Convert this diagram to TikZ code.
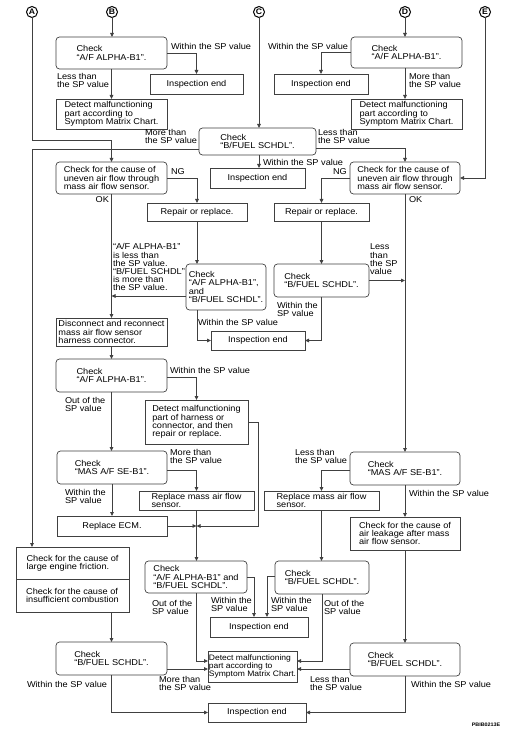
\documentclass[tikz,border=0pt]{standalone}
\usepackage{fontspec}
\setmainfont{Liberation Sans}[FakeStretch=1.08]
\usetikzlibrary{arrows.meta}
\definecolor{ln}{gray}{0.25}
\newcommand{\txtf}{\fontsize{8.5}{8.2}\selectfont}
\begin{document}
\begin{tikzpicture}[x=1pt,y=-1pt,
  every node/.style={inner sep=0pt,outer sep=0pt,font=\txtf},
  box/.style={draw=ln,line width=0.7pt,rectangle,align=left},
  rbox/.style={box,rounded corners=3.5pt},
  lab/.style={align=left},
  arr/.style={draw=ln,line width=0.8pt,-{Triangle[length=4pt,width=3.6pt]}},
  cn/.style={draw=ln,line width=0.8pt},
  circ/.style={circle,draw=black,line width=1pt,minimum size=11pt,font=\fontsize{8}{8}\selectfont\bfseries}]
\useasboundingbox (0,0) rectangle (507,735);
\fill[white] (0,0) rectangle (507,735);
% circles
\node[circ] (A) at (32,12) {A};
\node[circ] (B) at (112,12) {B};
\node[circ] (C) at (259,12) {C};
\node[circ] (D) at (405,12) {D};
\node[circ] (E) at (485,12) {E};
% boxes
\node[rbox,minimum width=111pt,minimum height=32pt] (b1) at (111.5,53) {Check\\“A/F ALPHA-B1”.};
\node[box,minimum width=93pt,minimum height=20pt] (ie1) at (196.5,84) {Inspection end};
\node[box,minimum width=111pt,minimum height=30pt] (det1) at (111.5,114) {Detect malfunctioning\\part according to\\Symptom Matrix Chart.};
\node[rbox,minimum width=111pt,minimum height=31pt] (d1) at (406.5,52.5) {Check\\“A/F ALPHA-B1”.};
\node[box,minimum width=94pt,minimum height=20pt] (ie2) at (321,84) {Inspection end};
\node[box,minimum width=111pt,minimum height=30pt] (det2) at (406.5,114) {Detect malfunctioning\\part according to\\Symptom Matrix Chart.};
\node[rbox,minimum width=117pt,minimum height=27pt] (c1) at (257.5,141.5) {Check\\“B/FUEL SCHDL”.};
\node[box,minimum width=95pt,minimum height=20pt] (ie3) at (257.5,178) {Inspection end};
\node[rbox,minimum width=111pt,minimum height=32pt] (uf1) at (111.5,178) {Check for the cause of\\uneven air flow through\\mass air flow sensor.};
\node[rbox,minimum width=110pt,minimum height=32pt] (uf2) at (405,178) {Check for the cause of\\uneven air flow through\\mass air flow sensor.};
\node[box,minimum width=100pt,minimum height=18pt] (rep1) at (197,212) {Repair or replace.};
\node[box,minimum width=95pt,minimum height=18pt] (rep2) at (321.5,212) {Repair or replace.};
\node[rbox,minimum width=80pt,minimum height=46pt] (chk2) at (226,287) {Check\\“A/F ALPHA-B1”,\\and\\“B/FUEL SCHDL”.};
\node[rbox,minimum width=95pt,minimum height=33pt] (bf1) at (321.5,280.5) {Check\\“B/FUEL SCHDL”.};
\node[box,minimum width=94pt,minimum height=19pt] (ie4) at (258,340.5) {Inspection end};
\node[box,minimum width=111pt,minimum height=28pt] (dis) at (111.5,332) {Disconnect and reconnect\\mass air flow sensor\\harness connector.};
\node[rbox,minimum width=111pt,minimum height=33pt] (af3) at (111.5,375.5) {Check\\“A/F ALPHA-B1”.};
\node[box,minimum width=103pt,minimum height=44pt] (harn) at (196.5,422) {Detect malfunctioning\\part of harness or\\connector, and then\\repair or replace.};
\node[rbox,minimum width=110pt,minimum height=33pt] (mas1) at (112,467.5) {Check\\“MAS A/F SE-B1”.};
\node[box,minimum width=115pt,minimum height=19pt] (rmaf1) at (196.5,500.5) {Replace mass air flow\\sensor.};
\node[box,minimum width=110pt,minimum height=20pt] (ecm) at (112,526) {Replace ECM.};
\node[rbox,minimum width=110pt,minimum height=33pt] (mas2) at (405,468.5) {Check\\“MAS A/F SE-B1”.};
\node[box,minimum width=115pt,minimum height=19pt] (rmaf2) at (321.5,500.5) {Replace mass air flow\\sensor.};
\node[box,minimum width=110pt,minimum height=33pt] (leak) at (405,533.5) {Check for the cause of\\air leakage after mass\\air flow sensor.};
\node[box,minimum width=113pt,minimum height=32pt] (fricA) at (72.5,563) {Check for the cause of\\large engine friction.};
\node[box,minimum width=113pt,minimum height=33pt] (fricB) at (72.5,595.5) {Check for the cause of\\insufficient combustion};
\node[rbox,minimum width=102pt,minimum height=32pt] (chk3) at (196,577) {Check\\“A/F ALPHA-B1” and\\“B/FUEL SCHDL”.};
\node[rbox,minimum width=94pt,minimum height=33pt] (bf2) at (322,577.5) {Check\\“B/FUEL SCHDL”.};
\node[box,minimum width=98pt,minimum height=20pt] (ie5) at (259,627) {Inspection end};
\node[box,minimum width=89pt,minimum height=31pt,font=\fontsize{7.9}{8.2}\selectfont] (det3) at (252.5,666.5) {Detect malfunctioning\\part according to\\Symptom Matrix Chart.};
\node[rbox,minimum width=111pt,minimum height=33pt] (bf3L) at (111.5,658.5) {Check\\“B/FUEL SCHDL”.};
\node[rbox,minimum width=110pt,minimum height=33pt] (bf3R) at (405,659.5) {Check\\“B/FUEL SCHDL”.};
\node[box,minimum width=98pt,minimum height=19pt] (ie6) at (257,712.5) {Inspection end};
\node[font=\fontsize{5}{5}\selectfont\bfseries] (id) at (486,725) {PBIB0213E};
\coordinate (m) at (196.5,526);
\coordinate (hr) at (258,526);
% connectors
\draw[arr] (A) |- ([yshift=22pt]uf1.north) -- (uf1.north);
\draw[arr] (B) -- (B |- b1.north);
\draw[arr] (C) -- (C |- c1.north);
\draw[arr] (D) -- (D |- d1.north);
\draw[arr] (E) |- (uf2.east);
\draw[arr] (b1.east) -| (ie1.north);
\draw[arr] (b1.south) -- (det1.north);
\draw[arr] (D |- d1.south) -- (D |- det2.north);
\draw[arr] (d1.west) -| (ie2.north);
\draw[arr] (C |- c1.south) -- (C |- ie3.north);
\draw[arr] ([yshift=-8pt]c1.west) -| (A |- fricA.north);
\draw[arr] ([yshift=-7pt]c1.east) -| (uf2.north);
\draw[arr] (uf1.east) -| (rep1.north);
\draw[arr] (uf2.west) -| (rep2.north);
\draw[arr] (uf1.south) -- (dis.north);
\draw[arr] (uf2.south) -- (mas2.north);
\draw[arr] (rep1.south) -- (rep1.south |- chk2.north);
\draw[arr] (rep2.south) -- (bf1.north);
\draw[arr] ([yshift=-9pt]chk2.west) coordinate (t1) -- (t1 -| dis.north);
\draw[arr] (chk2.south -| rep1.south) |- (ie4.west);
\draw[arr] (bf1.south) |- (ie4.east);
\draw[arr] (bf1.east) -- (bf1.east -| uf2.south);
\draw[arr] (dis.south) -- (af3.north);
\draw[arr] ([yshift=-1.5pt]af3.east) -| (harn.north);
\draw[arr] (af3.south) -- (af3.south |- mas1.north);
\draw[arr] (harn.east) -| (hr) -- (m);
\draw[arr] (ecm.east) -- (ecm.east -| m);
\draw[arr] ([yshift=-2.5pt]mas1.east) -| (rmaf1.north);
\draw[arr] (mas1.south) -- (ecm.north);
\draw[arr] (rmaf1.south) -- (rmaf1.south |- chk3.north);
\draw[arr] ([yshift=-2pt]mas2.west) -| (rmaf2.north);
\draw[arr] (mas2.south) -- (mas2.south |- leak.north);
\draw[arr] (leak.south) -- (bf3R.north);
\draw[arr] (rmaf2.south) -- (rmaf2.south |- bf2.north);
\draw[arr] (bf3L.north |- fricB.south) -- (bf3L.north);
\draw[arr] (chk3.east) -| ([xshift=-5pt]ie5.north);
\draw[arr] ([yshift=1.5pt]bf2.west) -| ([xshift=8pt]ie5.north);
\draw[arr] (chk3.south) |- ([yshift=5.5pt]det3.west);
\draw[arr] (bf2.south) |- ([yshift=5.5pt]det3.east);
\draw[arr] ([yshift=-10.5pt]bf3L.east) coordinate (t2) -- (t2 -| det3.west);
\draw[arr] ([yshift=-9.5pt]bf3R.west) coordinate (t3) -- (t3 -| det3.east);
\draw[arr] (bf3L.south) |- (ie6.west);
\draw[arr] (bf3R.south) |- (ie6.east);
% labels
\node[lab,anchor=north west] (l1) at (57,73) {Less than\\the SP value};
\node[lab,anchor=west] (l2) at (171,46) {Within the SP value};
\node[lab,anchor=west] (l3) at (268,46) {Within the SP value};
\node[lab,anchor=north west] (l4) at (409,73) {More than\\the SP value};
\node[lab,anchor=north west] (l5) at (145,129) {More than\\the SP value};
\node[lab,anchor=north west] (l6) at (318,129) {Less than\\the SP value};
\node[lab,anchor=west] (l7) at (263,162) {Within the SP value};
\node[lab,anchor=west] (l8) at (171,172) {NG};
\node[lab,anchor=west] (l9) at (333,172) {NG};
\node[lab,anchor=east] (l10) at (109,200) {OK};
\node[lab,anchor=west] (l11) at (409,200) {OK};
\node[lab,anchor=south west] (l12) at (113,291) {“A/F ALPHA-B1”\\is less than\\the SP value.\\“B/FUEL SCHDL”\\is more than\\the SP value.};
\node[lab,anchor=west] (l13) at (198,322) {Within the SP value};
\node[lab,anchor=north west] (l14) at (277,302) {Within the\\SP value};
\node[lab,anchor=north west] (l15) at (370,244) {Less\\than\\the SP\\value};
\node[lab,anchor=west] (l16) at (170,370) {Within the SP value};
\node[lab,anchor=north west] (l17) at (65,397) {Out of the\\SP value};
\node[lab,anchor=north west] (l18) at (170,449) {More than\\the SP value};
\node[lab,anchor=north west] (l19) at (65,489) {Within the\\SP value};
\node[lab,anchor=north west] (l20) at (295,449) {Less than\\the SP value};
\node[lab,anchor=west] (l21) at (409,493) {Within the SP value};
\node[lab,anchor=north west] (l22) at (211,597) {Within the\\SP value};
\node[lab,anchor=north west] (l23) at (271,597) {Within the\\SP value};
\node[lab,anchor=north west] (l24) at (152,600) {Out of the\\SP value};
\node[lab,anchor=north west] (l25) at (324,600) {Out of the\\SP value};
\node[lab,anchor=north west] (l26) at (159,676) {More than\\the SP value};
\node[lab,anchor=north west] (l27) at (310,676) {Less than\\the SP value};
\node[lab,anchor=west] (l28) at (27,684) {Within the SP value};
\node[lab,anchor=west] (l29) at (411,684) {Within the SP value};
\end{tikzpicture}
\end{document}
